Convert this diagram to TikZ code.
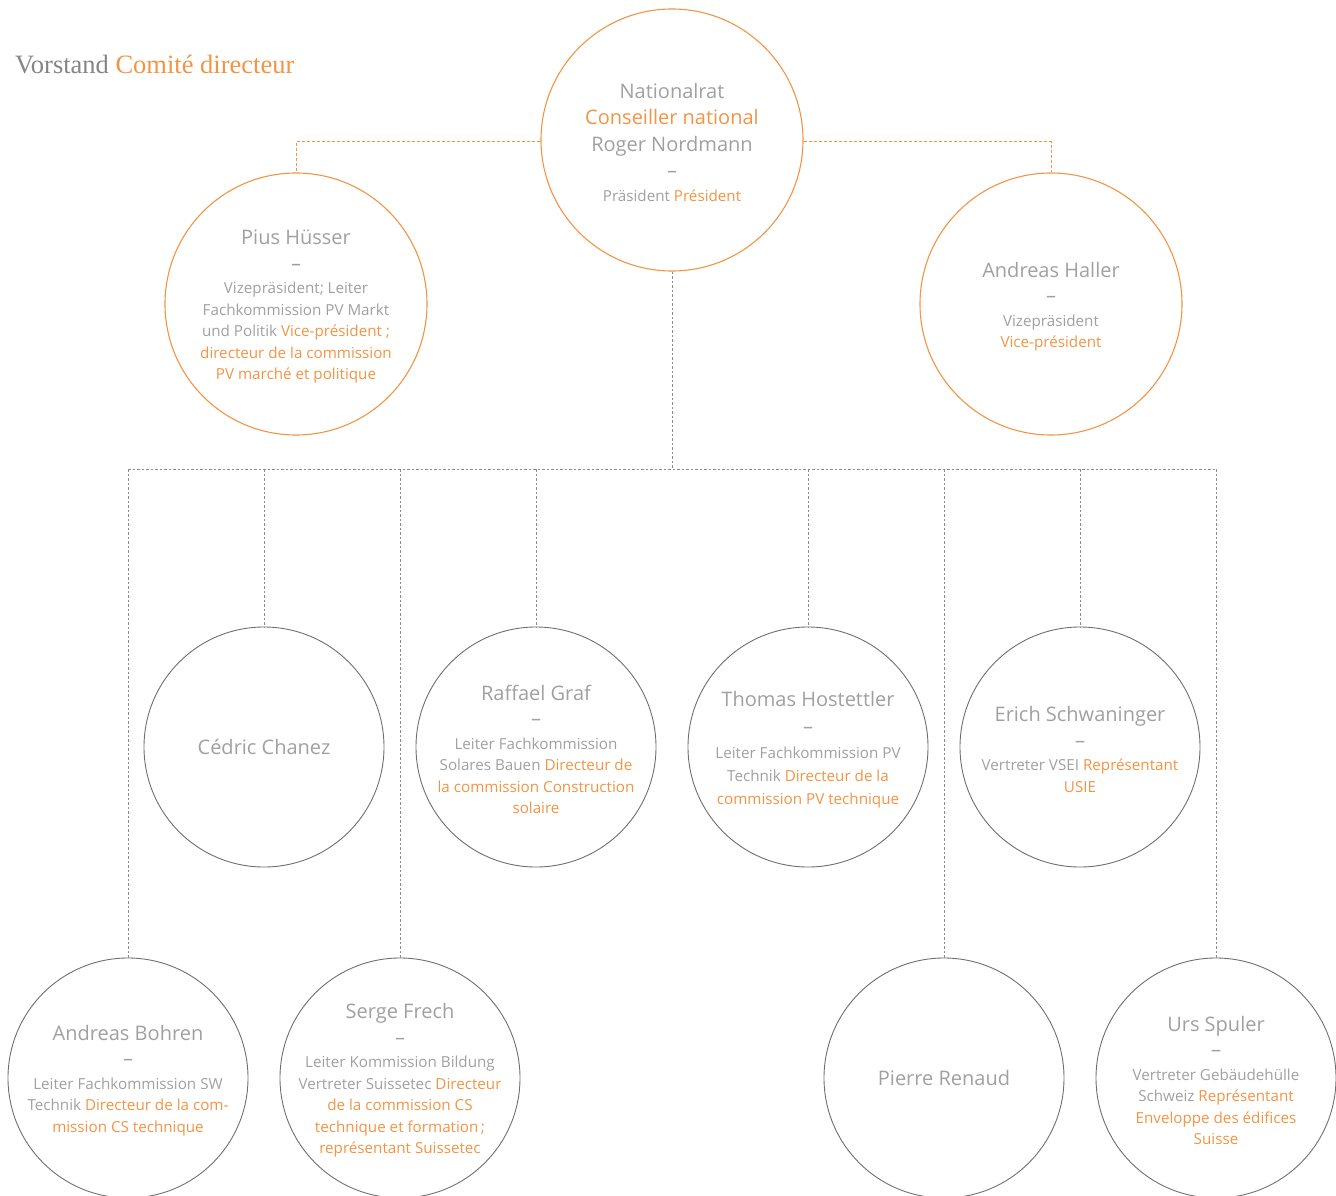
\documentclass[tikz,border=0pt]{standalone}
\usepackage{fontspec}
\setmainfont{Open Sans}
\newfontfamily\titlefont{Liberation Serif}
\usepackage{xcolor}
\usepackage{tikz}
\usetikzlibrary{positioning}
\definecolor{vsorange}{HTML}{F29445}
\definecolor{vsgrey}{HTML}{A0A0A0}
\definecolor{vsline}{HTML}{6E6E6E}
\definecolor{vsdots}{HTML}{8C8C8C}
\definecolor{vstitle}{HTML}{858585}
\newcommand{\namefont}{\fontsize{20}{26.5}\selectfont}
\newcommand{\fra}[1]{\textcolor{vsorange}{#1}}
\newcommand{\whohead}[1]{{\namefont #1}\\[4pt]{\namefont --}\\[2pt]}

\begin{document}
\begin{tikzpicture}[x=1pt,y=-1pt,
  board/.style={circle,draw=vsorange,line width=1.1pt,minimum size=262pt,inner sep=0pt},
  member/.style={circle,draw=vsline,line width=0.9pt,minimum size=240pt,inner sep=0pt},
  role/.style={align=center,inner sep=0pt,yshift=-2.5pt,text=vsgrey,font=\fontsize{15.2}{21.5}\selectfont},
  olink/.style={draw=vsorange,line width=1pt,dash pattern=on 3pt off 2pt},
  glink/.style={draw=vsdots,line width=1pt,dash pattern=on 2.5pt off 2pt}]
\useasboundingbox (0,0) rectangle (1336,1196);
\node[anchor=base west,inner sep=0pt,text=vstitle,font=\titlefont\fontsize{26.5}{30}\selectfont] (title) at (15,74)
  {Vorstand \fra{Comité directeur}};
% Vorstand, obere Reihe
\node[board] (pres) at (672,140) {};
\node[board] (pius) at (296,304) {};
\node[board] (haller) at (1051,304) {};
\node[role,font=\namefont] (pres-t) at (pres) {Nationalrat\\ \fra{Conseiller national}\\ Roger Nordmann\\ --\\[-2.5pt]
  {\fontsize{15.2}{21.5}\selectfont Präsident \fra{Président}}};
\node[role] (pius-t) at (pius) {\whohead{Pius Hüsser}Vizepräsident; Leiter\\ Fachkommission PV Markt\\
  und Politik \fra{Vice-président ;}\\ \fra{directeur de la commission}\\ \fra{PV marché et politique}};
\node[role] (haller-t) at (haller) {\whohead{Andreas Haller}Vizepräsident\\ \fra{Vice-président}};
% Mitglieder
\node[member] (chanez) at (264,747) {};
\node[member] (graf) at (536,747) {};
\node[member] (hostettler) at (808,747) {};
\node[member] (schwan) at (1080,747) {};
\node[member] (bohren) at (128,1078) {};
\node[member] (frech) at (400,1078) {};
\node[member] (renaud) at (944,1078) {};
\node[member] (spuler) at (1216,1078) {};
\node[role,font=\namefont,yshift=2.5pt] (chanez-t) at (chanez) {Cédric Chanez};
\node[role] (graf-t) at (graf) {\whohead{Raffael Graf}Leiter Fachkommission\\ Solares Bauen \fra{Directeur de}\\
  \fra{la commission Construction}\\ \fra{solaire}};
\node[role,font=\fontsize{15.2}{23}\selectfont] (hostettler-t) at (hostettler) {\whohead{Thomas Hostettler}Leiter Fachkommission PV\\
  Technik \fra{Directeur de la}\\ \fra{commission PV technique}};
\node[role] (schwan-t) at (schwan) {\whohead{Erich Schwaninger}Vertreter VSEI \fra{Représentant}\\ \fra{USIE}};
\node[role] (bohren-t) at (bohren) {\whohead{Andreas Bohren}Leiter Fachkommission SW\\
  Technik \fra{Directeur de la com-}\\ \fra{mission CS technique}};
\node[role] (frech-t) at (frech) {\whohead{Serge Frech}Leiter Kommission Bildung\\ Vertreter Suissetec \fra{Directeur}\\
  \fra{de la commission CS}\\ \fra{technique et formation\,;}\\ \fra{représentant Suissetec}};
\node[role,font=\namefont,yshift=2.5pt] (renaud-t) at (renaud) {Pierre Renaud};
\node[role] (spuler-t) at (spuler) {\whohead{Urs Spuler}Vertreter Gebäudehülle\\ Schweiz \fra{Représentant}\\
  \fra{Enveloppe des édifices}\\ \fra{Suisse}};
% Verbindungen
\coordinate (hub) at (672,469);
\draw[olink] ([yshift=-2pt]pres.west) -| (pius.north);
\draw[olink] ([yshift=-2pt]pres.east) -| (haller.north);
\draw[glink] (pres.south) -- (hub);
\draw[glink] (bohren.north |- hub) -- (spuler.north |- hub);
\foreach \n in {bohren,chanez,frech,graf,hostettler,renaud,schwan,spuler}
  \draw[glink] (\n.north |- hub) -- (\n.north);
\end{tikzpicture}
\end{document}
